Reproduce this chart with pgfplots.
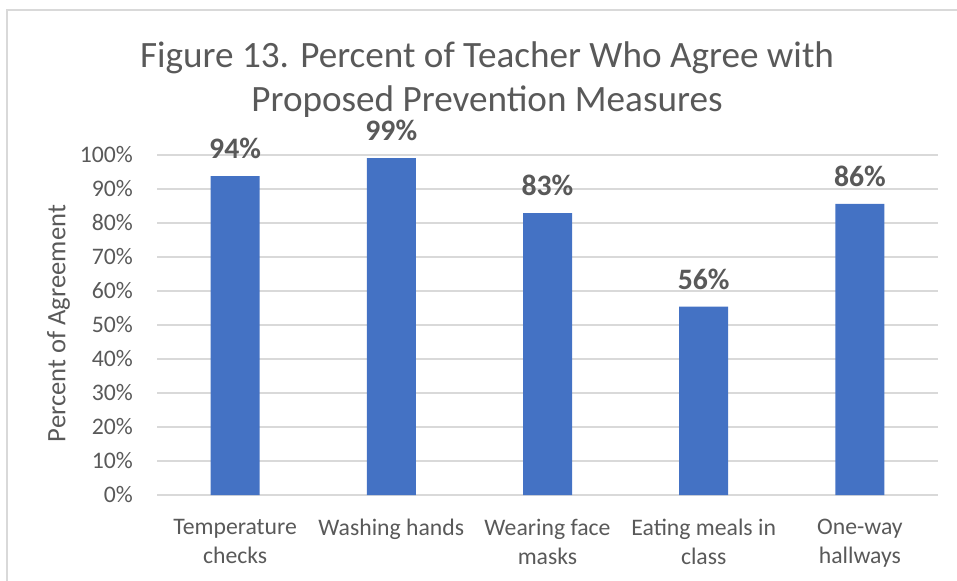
\documentclass[border=0pt]{standalone}
\usepackage{pgfplots}
\pgfplotsset{compat=1.18}
\usepackage{fontspec}
\setmainfont{Carlito}
\definecolor{barc}{HTML}{4472C4}
\definecolor{txt}{HTML}{595959}
\definecolor{grd}{HTML}{D9D9D9}
\begin{document}
\begin{tikzpicture}
\path[use as bounding box] (0bp,0bp) rectangle (957bp,581bp);
\draw[grd, line width=1.5bp] (7bp,0bp) -- (7bp,571bp) -- (957bp,571bp);
\begin{axis}[
  at={(157bp,86bp)}, anchor=south west,
  width=781bp, height=340bp, scale only axis,
  xmin=-0.5, xmax=4.5, ymin=0, ymax=100,
  ybar, bar width=49bp,
  axis line style={draw=none},
  major tick length=0pt,
  ymajorgrids, grid style={grd, line width=1.2bp},
  ytick={0,10,...,100},
  yticklabels={0\%,10\%,20\%,30\%,40\%,50\%,60\%,70\%,80\%,90\%,100\%},
  xtick=data,
  xticklabels={Temperature\\checks, Washing hands, Wearing face\\masks, Eating meals in\\class, One-way\\hallways},
  ticklabel style={font=\fontsize{23.8}{29}\selectfont, text=txt},
  yticklabel style={anchor=east, inner sep=0pt, xshift=-24bp},
  xticklabel style={anchor=north, inner sep=0pt, align=center, yshift=-24bp},
  ylabel={Percent of Agreement},
  ylabel style={font=\fontsize{26.7}{32}\selectfont, text=txt, at={(axis description cs:-0.126,0.504)}, anchor=center},
  point meta=explicit symbolic,
  nodes near coords,
  every node near coord/.append style={font=\bfseries\fontsize{29.8}{34}\selectfont, text=txt, anchor=south, inner sep=0pt, yshift=17bp},
  clip=false,
]
\addplot[fill=barc, draw=none] coordinates {
  (0,93.8) [94\%]
  (1,99.1) [99\%]
  (2,82.9) [83\%]
  (3,55.4) [56\%]
  (4,85.6) [86\%]
};
\end{axis}
\node[anchor=base, align=center, text=txt, font=\fontsize{37.3}{45}\selectfont] at (487bp,469bp) {Figure 13. Percent of Teacher Who Agree with\\Proposed Prevention Measures};
\end{tikzpicture}
\end{document}
